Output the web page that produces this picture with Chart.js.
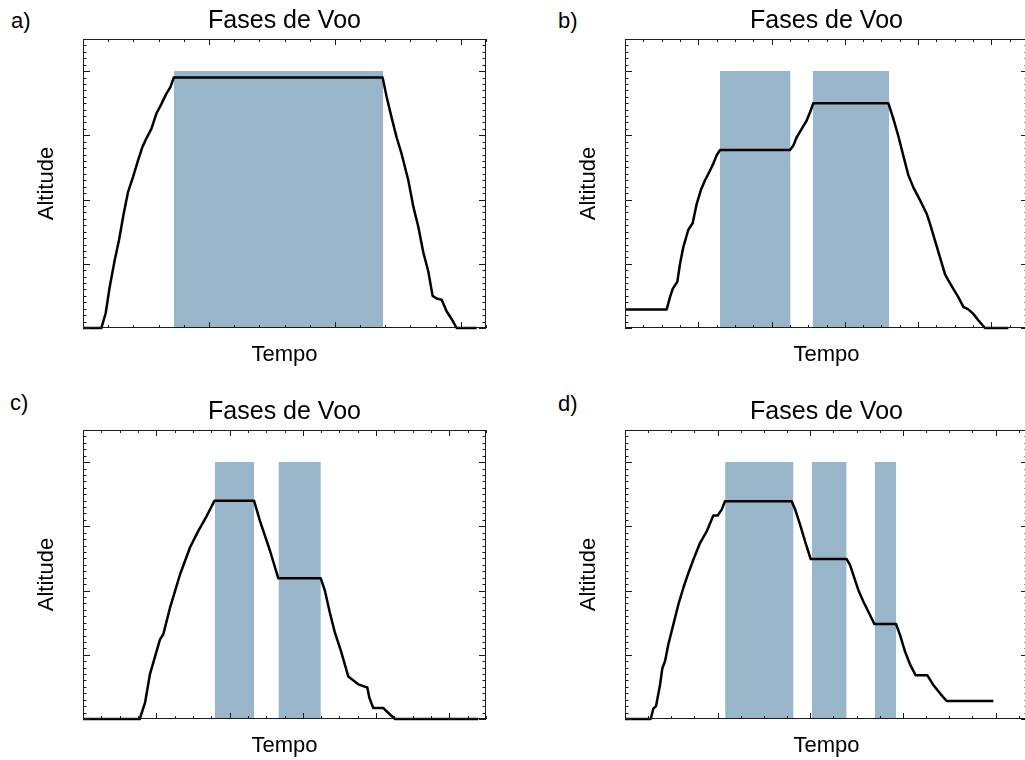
<!DOCTYPE html>
<html>
<head>
<meta charset="utf-8">
<script src="https://cdn.jsdelivr.net/npm/chart.js@4"></script>
<style>
    html, body { margin: 0; padding: 0; background: #fff; }
    body { position: relative; width: 1025px; height: 760px; overflow: hidden; }
    canvas { position: absolute; }
    .lbl { position: absolute; font: 22px 'Liberation Sans', Arial, sans-serif; line-height: 22px; color: #000; }
</style>
</head>
<body>
<div class="lbl" style="left:11px; top:10px">a)</div>
<div class="lbl" style="left:558px; top:10px">b)</div>
<div class="lbl" style="left:10px; top:392px">c)</div>
<div class="lbl" style="left:558px; top:393px">d)</div>
<canvas id="chartA" width="512" height="380" style="left:0; top:0"></canvas>
<canvas id="chartB" width="512" height="380" style="left:542px; top:0"></canvas>
<canvas id="chartC" width="512" height="380" style="left:0; top:391px"></canvas>
<canvas id="chartD" width="512" height="380" style="left:542px; top:391px"></canvas>
<script>
const titleText = 'Fases de Voo';
const xTitle = 'Tempo';
const yTitle = 'Altitude';

// altitude in thousands, time in arbitrary units
const timeA = [0, 14.6, 18, 21.2, 25.2, 28.6, 32.3, 35.8, 39.7, 43.7, 47.2, 50.3, 54.3, 58.3, 62.3, 66.2, 69.4, 72.1,
    237.9, 241.1, 245, 249, 253, 258.3, 262.3, 266.2, 270.2, 274.2, 277.6, 280.8, 284.8, 288.7, 292.7, 296.7, 312.6];
const altA = [0, 0, 2.3, 6.4, 10.6, 13.7, 17.8, 21.2, 23.5, 26.1, 28.2, 29.5, 31.0, 33.4, 34.9, 36.5, 37.5, 39.0,
    39.0, 36.0, 32.8, 29.7, 27.1, 23.0, 18.9, 15.8, 11.8, 8.8, 5.0, 4.6, 4.4, 2.6, 1.4, 0, 0];

const timeB = [0, 56.9, 61.4, 65.1, 71.4, 75.1, 79.6, 86.4, 92.3, 97.8, 103.3, 109.2, 115.1, 120.5, 125.1, 129.6,
    225.2, 229.7, 234.3, 241.1, 247.9, 252.5, 257.0, 359.4, 366.2, 373.0, 379.9, 386.7, 393.5, 402.6, 411.7, 416.3,
    423.1, 429.9, 436.7, 441.3, 448.1, 454.9, 461.8, 468.6, 475.4, 482.2, 491.3, 523.2];
const altB = [2.9, 2.9, 4.8, 6.1, 7.2, 10.0, 12.6, 15.3, 16.3, 19.3, 21.4, 23.0, 24.3, 25.6, 26.9, 27.7,
    27.7, 28.4, 29.7, 31.0, 32.3, 33.6, 35.0, 35.0, 32.6, 29.9, 26.8, 23.8, 21.9, 19.9, 17.8, 16.2,
    13.6, 11.0, 8.4, 7.4, 6.1, 4.8, 3.3, 2.9, 2.2, 1.2, 0, 0];

const timeC = [0, 77.4, 84.6, 91.4, 105.1, 109.6, 118.7, 132.4, 146.0, 157.4, 168.8, 179.5, 233.4, 241.6, 255.2, 266.6,
    324.5, 330.3, 337.0, 343.9, 352.0, 362.1, 375.7, 388.0, 390.8, 396.2, 409.9, 419.0, 425.8, 539.5];
const altC = [0, 0, 2.5, 7.0, 12.4, 13.2, 17.3, 22.5, 26.7, 29.3, 31.6, 34.0, 34.0, 30.8, 26.2, 21.9,
    21.9, 19.9, 16.5, 13.4, 10.6, 6.6, 5.4, 4.9, 3.3, 1.7, 1.7, 0.7, 0, 0];

const timeD = [0, 55.4, 61.2, 66.9, 75.6, 80.6, 86.4, 93.5, 104.3, 115.1, 125.9, 136.7, 147.5, 161.9, 176.3, 190.7,
    200.0, 208.7, 215.9, 359.8, 367.0, 377.8, 388.6, 400.8, 478.5, 485.7, 503.7, 514.5, 528.9, 538.3,
    585.0, 593.7, 604.5, 615.3, 627.5, 652.7, 665.6, 680.0, 694.4, 795.2];
const altD = [0, 0, 1.6, 2.0, 5.3, 7.9, 9.0, 11.6, 14.7, 17.8, 20.4, 22.7, 24.8, 27.4, 29.2, 31.7,
    31.7, 32.6, 33.9, 33.9, 32.7, 30.3, 27.7, 24.9, 24.9, 24.0, 20.1, 18.3, 16.2, 14.8,
    14.8, 13.1, 10.5, 8.5, 6.8, 6.8, 5.3, 4.0, 2.8, 2.8];

// shaded flight phases [start, end]
const phasesA = [[72.1, 238.4]];
const phasesB = [[129.6, 226.0], [256.1, 360.5]];
const phasesC = [[179.8, 233.6], [266.8, 324.6]];
const phasesD = [[216.2, 363.8], [403.5, 478.5], [539.0, 585.5]];
const phaseTop = 40;

const xMaxes = [320, 550, 550, 870];
const xMajors = [100, 100, 100, 200];
const xMinors = [20, 25, 25, 50];
const yMax = 45;
const yMajor = 10;
const yMinor = 1;

Chart.defaults.font.family = "'Liberation Sans', Arial, Helvetica, sans-serif";
Chart.defaults.color = '#000';

// IDL style box with inward ticks on all four sides
const boxTicks = {
    id: 'boxTicks',
    afterDatasetsDraw(chart, args, opts) {
        const { ctx, chartArea, scales } = chart;
        const { left, right, top, bottom } = chartArea;
        const x = scales.x, y = scales.y;
        ctx.save();
        ctx.strokeStyle = '#1a1a1a';
        ctx.lineWidth = 1;
        ctx.strokeRect(left + 0.5, top + 0.5, right - left - 1, bottom - top - 1);
        ctx.beginPath();
        for (let v = x.min; v <= x.max + 1e-6; v += opts.xMinor) {
            const px = Math.round(x.getPixelForValue(v)) + 0.5;
            const major = Math.abs(v / opts.xMajor - Math.round(v / opts.xMajor)) < 1e-6;
            const len = major ? 6 : 3;
            ctx.moveTo(px, bottom); ctx.lineTo(px, bottom - len);
            ctx.moveTo(px, top); ctx.lineTo(px, top + len);
        }
        for (let v = y.min; v <= y.max + 1e-6; v += opts.yMinor) {
            const py = Math.round(y.getPixelForValue(v)) + 0.5;
            const major = Math.abs(v / opts.yMajor - Math.round(v / opts.yMajor)) < 1e-6;
            const len = major ? 7 : 3.5;
            ctx.moveTo(left, py); ctx.lineTo(left + len, py);
            ctx.moveTo(right, py); ctx.lineTo(right - len, py);
        }
        ctx.stroke();
        ctx.restore();
    }
};

function makePanel(canvasId, times, alts, phases, i) {
    const datasets = [{
        data: times.map((t, k) => ({ x: t, y: alts[k] })),
        borderColor: '#000',
        borderWidth: 2.5,
        borderJoinStyle: 'round',
        pointRadius: 0,
        fill: false,
        tension: 0,
        clip: false
    }];
    phases.forEach(p => {
        datasets.push({
            data: [{ x: p[0], y: phaseTop }, { x: p[1], y: phaseTop }],
            borderColor: 'transparent',
            borderWidth: 0,
            pointRadius: 0,
            backgroundColor: '#99b5ca',
            fill: 'origin'
        });
    });

    new Chart(document.getElementById(canvasId), {
        type: 'line',
        data: { datasets: datasets },
        options: {
            responsive: false,
            animation: false,
            layout: { padding: { left: 0, top: 0, right: 26, bottom: 0 } },
            plugins: {
                legend: { display: false },
                tooltip: { enabled: false },
                title: {
                    display: true,
                    text: titleText,
                    fullSize: false,
                    color: '#000',
                    font: { size: 25, weight: 'normal', lineHeight: 1 },
                    padding: { top: 8.5, bottom: 5.5 }
                },
                boxTicks: { xMajor: xMajors[i], xMinor: xMinors[i], yMajor: yMajor, yMinor: yMinor }
            },
            scales: {
                x: {
                    type: 'linear',
                    min: 0,
                    max: xMaxes[i],
                    ticks: { display: false },
                    grid: { display: false },
                    border: { display: false },
                    title: {
                        display: true, text: xTitle, color: '#000',
                        font: { size: 22, lineHeight: 1 },
                        padding: { top: 0, bottom: 14 }
                    },
                    afterFit: s => { s.height = 52; }
                },
                y: {
                    type: 'linear',
                    min: 0,
                    max: yMax,
                    ticks: { display: false },
                    grid: { display: false },
                    border: { display: false },
                    title: {
                        display: true, text: yTitle, color: '#000',
                        font: { size: 22, lineHeight: 1 },
                        padding: { top: 36, bottom: 0 }
                    },
                    afterFit: s => { s.width = 83; }
                }
            }
        },
        plugins: [boxTicks]
    });
}

document.addEventListener('DOMContentLoaded', () => {
    makePanel('chartA', timeA, altA, phasesA, 0);
    makePanel('chartB', timeB, altB, phasesB, 1);
    makePanel('chartC', timeC, altC, phasesC, 2);
    makePanel('chartD', timeD, altD, phasesD, 3);
});
</script>
</body>
</html>
